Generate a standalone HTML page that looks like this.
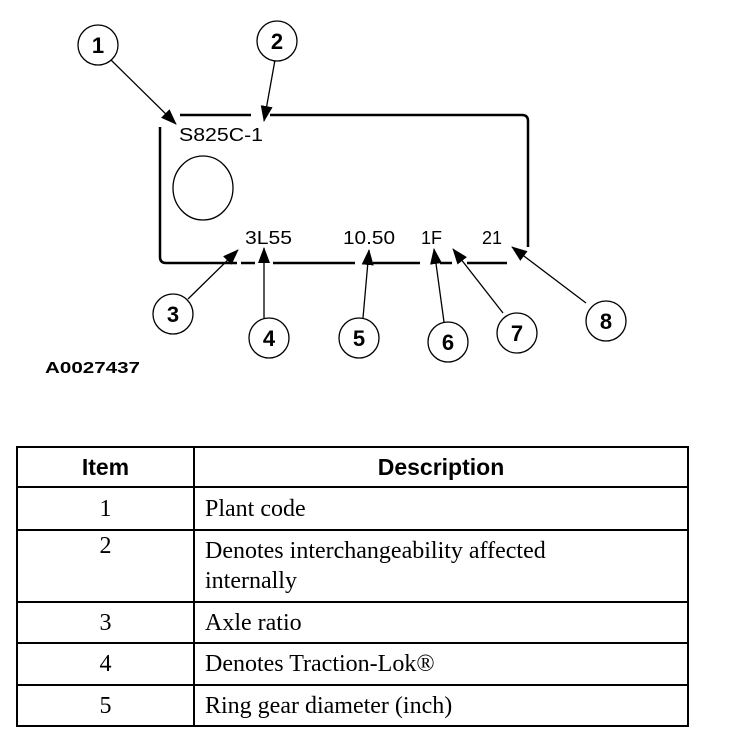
<!DOCTYPE html>
<html><head><style>
body{margin:0;background:#fff;width:736px;height:732px;overflow:hidden;position:relative}
svg{position:absolute;left:0;top:0}
table{position:absolute;left:16px;top:446px;width:673px;border-collapse:collapse;font-family:"Liberation Serif",serif;font-size:24px;color:#000}
td,th{border:2px solid #000;padding:0 10px}
th{font-family:"Liberation Sans",sans-serif;font-weight:bold;font-size:23px;height:38px}
td:first-child{text-align:center;width:155px}
td{line-height:30px}
</style></head><body>
<svg width="736" height="440" viewBox="0 0 736 440" font-family="Liberation Sans, sans-serif">
<defs><marker id="b" markerWidth="16" markerHeight="16" refX="15" refY="8" orient="auto" markerUnits="userSpaceOnUse" viewBox="0 0 16 16"><path d="M0,2 L16,8 L0,14z" fill="#000"/></marker></defs>
<g stroke="#000" stroke-width="2.5" fill="none">
<path d="M180,115 H251 M270,115 H522 Q528,115 528,121 V247"/>
<path d="M160,127 V257 Q160,263 166,263 H237 M241,263 H255 M273,263 H355 M373,263 H420 M440,263 H452 M467,263 H507"/>
</g>
<ellipse cx="203" cy="188" rx="30" ry="32" fill="none" stroke="#000" stroke-width="1.3"/>
<g font-size="18" fill="#000">
<text x="179" y="141" textLength="84" lengthAdjust="spacingAndGlyphs">S825C-1</text>
<text x="245" y="244" textLength="47" lengthAdjust="spacingAndGlyphs">3L55</text>
<text x="343" y="244" textLength="52" lengthAdjust="spacingAndGlyphs">10.50</text>
<text x="421" y="244">1F</text>
<text x="482" y="244">21</text>
</g>
<g stroke="#000" stroke-width="1.3" fill="none" marker-end="url(#b)">
<line x1="111" y1="60" x2="176" y2="124"/>
<line x1="275" y1="60" x2="264" y2="121"/>
<line x1="188" y1="299" x2="238" y2="250"/>
<line x1="264" y1="318" x2="264" y2="248"/>
<line x1="363" y1="318" x2="369" y2="250"/>
<line x1="444" y1="322" x2="434" y2="249"/>
<line x1="503" y1="313" x2="453" y2="249"/>
<line x1="586" y1="303" x2="512" y2="247"/>
</g>
<g fill="#fff" stroke="#000" stroke-width="1.3">
<circle cx="98" cy="45" r="20"/><circle cx="277" cy="41" r="20"/>
<circle cx="173" cy="314" r="20"/><circle cx="269" cy="338" r="20"/>
<circle cx="359" cy="338" r="20"/><circle cx="448" cy="342" r="20"/>
<circle cx="517" cy="333" r="20"/><circle cx="606" cy="321" r="20"/>
</g>
<g font-size="22" font-weight="bold" text-anchor="middle" fill="#000">
<text x="98" y="53">1</text><text x="277" y="49">2</text>
<text x="173" y="322">3</text><text x="269" y="346">4</text>
<text x="359" y="346">5</text><text x="448" y="350">6</text>
<text x="517" y="341">7</text><text x="606" y="329">8</text>
</g>
<text x="45" y="373" font-size="16" font-weight="bold" textLength="95" lengthAdjust="spacingAndGlyphs">A0027437</text>
</svg>
<table>
<tr><th>Item</th><th>Description</th></tr>
<tr><td style="height:41px">1</td><td>Plant code</td></tr>
<tr><td style="vertical-align:top;height:70px">2</td><td>Denotes interchangeability affected<br>internally</td></tr>
<tr><td style="height:39px">3</td><td>Axle ratio</td></tr>
<tr><td style="height:40px">4</td><td>Denotes Traction-Lok®</td></tr>
<tr><td style="height:39px">5</td><td>Ring gear diameter (inch)</td></tr>
</table>
</body></html>
